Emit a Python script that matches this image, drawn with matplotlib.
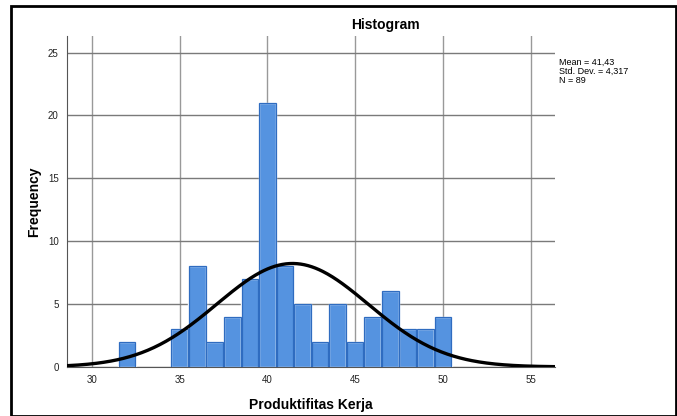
import numpy as np
import matplotlib
matplotlib.use("Agg")
import matplotlib.pyplot as plt
from matplotlib.patches import Rectangle

plt.rcParams['font.family'] = ['Liberation Sans', 'DejaVu Sans']

# bin centres and counts
bin_centers = [32, 33, 34, 35, 36, 37, 38, 39, 40, 41, 42, 43, 44, 45, 46, 47, 48, 49, 50]
counts = [2, 0, 0, 3, 8, 2, 4, 7, 21, 8, 5, 2, 5, 2, 4, 6, 3, 3, 4]
mean = 41.43
std = 4.317
n = 89
x_ticks = [30, 35, 40, 45, 50, 55]
y_ticks = [0, 5, 10, 15, 20, 25]

fig = plt.figure(figsize=(6.77, 4.16), dpi=100)
ax = fig.add_axes([0.099, 0.118, 0.721, 0.795])

# skip empty bins so no edge is drawn on the baseline
centers = np.array(bin_centers)
heights = np.array(counts)
keep = heights > 0
ax.bar(centers[keep], heights[keep], width=1.0, color="#5593e0", edgecolor="white",
       linewidth=1.0, zorder=3)
ax.bar(centers[keep], heights[keep], width=0.95, color="none", edgecolor="#2f6cc0",
       linewidth=0.9, zorder=3)

xs = np.linspace(28.58, 56.4, 400)
pdf = n * 1.0 / (std * np.sqrt(2 * np.pi)) * np.exp(-0.5 * ((xs - mean) / std) ** 2)
ax.plot(xs, pdf, color="black", linewidth=2.4, zorder=4)

ax.set_xlim(28.58, 56.4)
ax.set_ylim(0, 26.3)
ax.set_xticks(x_ticks)
ax.set_yticks(y_ticks)
ax.tick_params(length=0, labelsize=7, pad=6, colors="#222222")
ax.grid(True, axis="y", color="#7a7a7a", linewidth=1.0, zorder=0)
ax.grid(True, axis="x", color="#999999", linewidth=1.0, zorder=0)
ax.set_axisbelow(True)
for side in ["top", "right"]:
    ax.spines[side].set_visible(False)
ax.spines["left"].set_color("#555555")
ax.spines["bottom"].set_color("#555555")

ax.set_xlabel("Produktifitas Kerja", fontsize=10, fontweight="bold", labelpad=9)
ax.set_ylabel("Frequency", fontsize=10, fontweight="bold", labelpad=5)
fig.text(0.57, 0.94, "Histogram", fontsize=10, fontweight="bold", ha="center", va="center")
fig.text(0.826, 0.86, f"Mean = 41,43\nStd. Dev. = 4,317\nN = {n}",
         fontsize=6.5, ha="left", va="top", linespacing=0.95)

# outer frame
fig.patches.append(Rectangle((0.016, 0.0), 0.982, 0.985, transform=fig.transFigure,
                             fill=False, edgecolor="black", linewidth=2))

fig.savefig("out.png", dpi=100)
